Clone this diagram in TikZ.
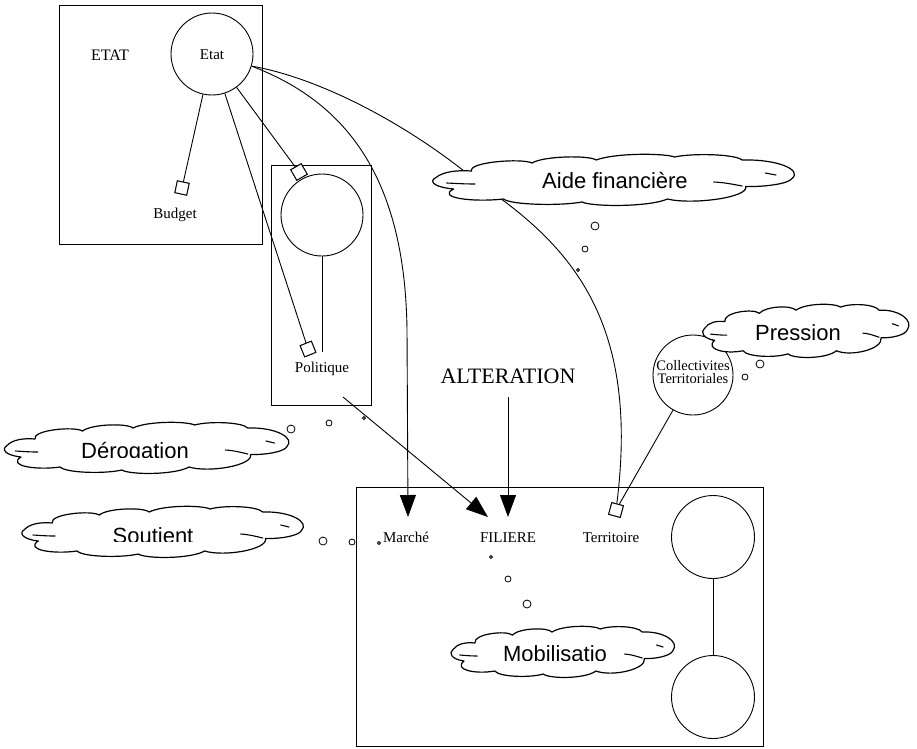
\documentclass[tikz,border=0pt]{standalone}
\usepackage{fontspec}
\setmainfont{Liberation Serif}
\newfontfamily\cloudfont{Liberation Sans}
\usetikzlibrary{arrows.meta}

% A hand-drawn looking thought cloud, #1 = width, #2 = height (in pt),
% drawn around the pic's position.
\tikzset{
  pics/thought/.style 2 args={code={
    \begin{scope}[xscale=#1/100,yscale=#2/100,shift={(-50,-50)}]
      \path[draw,fill=white,line width=1.2pt,line join=round]
        (0,45) .. controls (2,33) and (6,30) .. (10,32)
        .. controls (9,14) and (24,6) .. (27,16)
        .. controls (30,2) and (43,0) .. (45,10)
        .. controls (50,-4) and (64,-4) .. (67,4)
        .. controls (72,-4) and (84,-2) .. (86,10)
        .. controls (96,8) and (103,30) .. (100,47)
        .. controls (99,58) and (92,64) .. (87,63)
        .. controls (88,85) and (72,100) .. (65,88)
        .. controls (60,104) and (44,104) .. (41,94)
        .. controls (35,102) and (21,100) .. (19,88)
        .. controls (10,95) and (0,85) .. (5,68)
        .. controls (-1,64) and (-2,52) .. (0,45) -- cycle;
      \draw[line width=1.1pt,line cap=round]
        (3,56) .. controls (6,57) and (8,58) .. (11,58)
        (78,54) .. controls (81,55) and (83,58) .. (86,62)
        (92.5,36) -- (95.5,40);
    \end{scope}}}
}

\begin{document}
\begin{tikzpicture}[x=1pt,y=-1pt,
  wire/.style={line width=0.9pt},
  frame/.style={draw,line width=0.9pt},
  role/.style={circle,draw,line width=0.9pt,minimum size=82pt,inner sep=0pt},
  port/.style={rectangle,draw,fill=white,line width=0.9pt,minimum size=12pt,inner sep=0pt},
  lbl/.style={font=\fontsize{15}{15}\selectfont,inner sep=0pt,anchor=base},
  ctext/.style={font=\cloudfont\fontsize{22}{22}\selectfont,inner sep=0pt,anchor=base},
  bubble/.style={circle,draw,fill=white,line width=0.8pt,inner sep=0pt},
  flow/.style={-{Triangle[length=22pt,width=16pt]},line width=0.9pt}
]
\useasboundingbox (0,0) rectangle (917,748);

% ---- frames ----
\draw[frame] (59,5) rectangle (262,244);
\draw[frame] (271,165) rectangle (371,405);
\draw[frame] (356,487) rectangle (763,746);

% ---- actors ----
\node[role] (etat) at (212,54) {};
\node[lbl] (etatlbl) at (212,59) {Etat};
\node[lbl,font=\fontsize{16}{16}\selectfont] (etatgrp) at (110,60) {ETAT};
\node[role] (polcirc) at (322,215) {};
\node[role,minimum size=80pt] (coll) at (693,375) {};
\node[role,minimum size=83pt] (r1) at (713,537) {};
\node[role,minimum size=83pt] (r2) at (713,697) {};

% ---- ports ----
\node[port,rotate=-12] (budget) at (182,188) {};
\node[port,rotate=30] (poltop) at (299,172) {};
\node[port,rotate=22] (polbot) at (308,349) {};
\node[port,rotate=-15] (terr) at (616,510) {};

\coordinate (polend) at (322,352);
\coordinate (marchetip) at (408,517);
\coordinate (filtip) at (488,517);
\coordinate (polout) at (343,397);
\coordinate (altout) at (508,397);
\coordinate (alttip) at (508,517);

% ---- connectors ----
\draw[wire] (etat) -- (budget);
\draw[wire] (etat) -- (poltop);
\draw[wire] (etat) -- (polbot);
\draw[wire] (polcirc) -- (polend);
\draw[wire] (r1) -- (r2);
\draw[wire] (coll) -- (terr);
\draw[wire] (etat.-17) .. controls (320,78) and (410,125) .. (480,184)
  .. controls (570,245) and (640,320) .. (terr);
\draw[flow] (etat.-17) .. controls (340,100) and (405,170) .. (407,330) -- (marchetip);
\draw[flow] (polout) -- (filtip);
\draw[flow] (altout) -- (alttip);

% ports stay on top of the lines
\node[port,rotate=-12] at (budget) {};
\node[port,rotate=30] at (poltop) {};
\node[port,rotate=22] at (polbot) {};
\node[port,rotate=-15] at (terr) {};

% ---- labels ----
\node[lbl] (budgetlbl) at (175,218) {Budget};
\node[lbl] (pollbl) at (322,372) {Politique};
\node[lbl,font=\fontsize{22}{22}\selectfont] (alt) at (508,383) {ALTERATION};
\node[lbl] (marche) at (406,542) {Marché};
\node[lbl] (filiere) at (508,542) {FILIERE};
\node[lbl] (territoire) at (611,542) {Territoire};
\node[lbl,font=\fontsize{14.5}{13}\selectfont] (colllbl1) at (693,370) {Collectivites};
\node[lbl,font=\fontsize{14.5}{13}\selectfont] (colllbl2) at (693,383) {Territoriales};

% ---- thought clouds ----
\pic (aide) at (614,180) {thought={356}{50}};
\pic (pression) at (806,331) {thought={203}{52}};
\pic (derog) at (147,448) {thought={280}{50}};
\pic (soutien) at (163,532) {thought={277}{50}};
\pic (mobil) at (563,652) {thought={220}{50}};

% cloud texts
\node[ctext] (aidetxt) at (615,188) {Aide financière};
\node[ctext] (presstxt) at (798,340) {Pression};
\begin{scope}
  \clip (0,420) rectangle (300,457.5);
  \node[ctext] (derogtxt) at (135,458) {Dérogation};
\end{scope}
\begin{scope}
  \clip (0,505) rectangle (300,541.5);
  \node[ctext] (soutientxt) at (153,543) {Soutient};
\end{scope}
\begin{scope}
  \clip (440,620) rectangle (680,660);
  \node[ctext] (mobiltxt) at (555,661) {Mobilisatio};
\end{scope}

% ---- thought bubbles ----
\node[bubble,minimum size=8pt] (a1) at (595,226) {};
\node[bubble,minimum size=6pt] (a2) at (585,249) {};
\node[bubble,minimum size=3pt] (a3) at (578,270) {};
\node[bubble,minimum size=8pt] (p1) at (760,364) {};
\node[bubble,minimum size=6pt] (p2) at (745,377) {};
\node[bubble,minimum size=8pt] (d1) at (291,429) {};
\node[bubble,minimum size=6pt] (d2) at (329,423) {};
\node[bubble,minimum size=3pt] (d3) at (364,418) {};
\node[bubble,minimum size=8pt] (s1) at (323,541) {};
\node[bubble,minimum size=6pt] (s2) at (352,542) {};
\node[bubble,minimum size=3pt] (s3) at (379,543) {};
\node[bubble,minimum size=3pt] (m1) at (491,557) {};
\node[bubble,minimum size=6pt] (m2) at (508,579) {};
\node[bubble,minimum size=8pt] (m3) at (527,604) {};
\end{tikzpicture}
\end{document}
